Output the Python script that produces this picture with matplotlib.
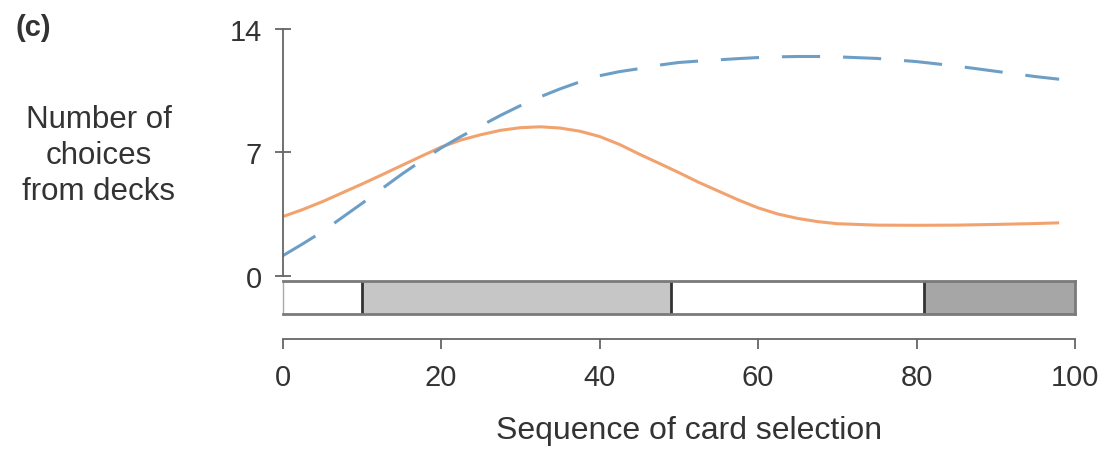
import matplotlib
matplotlib.use("Agg")
import matplotlib.pyplot as plt

plt.rcParams['font.family'] = ['Liberation Sans', 'DejaVu Sans']

# Data
seq = [0, 2.5, 5, 7.5, 10, 12.5, 15, 17.5, 20, 22.5, 25, 27.5, 30, 32.5, 35, 37.5,
       40, 42.5, 45, 47.5, 50, 52.5, 55, 57.5, 60, 62.5, 65, 67.5, 70, 75, 80, 85,
       90, 95, 98]
solid_deck = [3.35, 3.75, 4.2, 4.7, 5.2, 5.72, 6.25, 6.78, 7.3, 7.7, 8.0, 8.25, 8.4,
              8.45, 8.38, 8.2, 7.9, 7.45, 6.9, 6.38, 5.85, 5.3, 4.8, 4.3, 3.85, 3.5,
              3.25, 3.07, 2.95, 2.87, 2.86, 2.87, 2.91, 2.96, 3.0]
dashed_deck = [1.13, 1.8, 2.5, 3.3, 4.1, 4.93, 5.75, 6.52, 7.25, 7.9, 8.5, 9.1, 9.65,
               10.15, 10.6, 11.0, 11.35, 11.58, 11.75, 11.95, 12.1, 12.18, 12.25,
               12.32, 12.38, 12.42, 12.44, 12.44, 12.42, 12.33, 12.15, 11.9, 11.6,
               11.3, 11.15]

# phase strip
phase_start = [0, 10, 49, 81]
phase_end = [10, 49, 81, 100]
phase_color = ['white', '#c6c6c6', 'white', '#a6a6a6']

x_ticks = [0, 20, 40, 60, 80, 100]
y_ticks = [0, 7, 14]

txt = '#333333'
W, H = 1104, 452
fig = plt.figure(figsize=(W / 100, H / 100), dpi=100)

def frac(left, top, right, bottom):
    return [left / W, 1 - bottom / H, (right - left) / W, (bottom - top) / H]

# main curves
ax = fig.add_axes(frac(282.7, 30, 1075, 276.7))
ax.plot(seq, solid_deck, color='#f2a26e', lw=2.2, solid_capstyle='butt')
ax.plot(seq, dashed_deck, color='#6d9fc6', lw=2.2, dashes=(12.5, 7.5))
ax.set_xlim(0, 100)
ax.set_ylim(0, 14)
ax.set_yticks(y_ticks)
ax.set_xticks([])
for s in ['top', 'right', 'bottom']:
    ax.spines[s].set_visible(False)
ax.spines['left'].set_color('#666666')
ax.spines['left'].set_linewidth(1.3)
ax.tick_params(axis='y', direction='inout', length=12, width=1.3, color='#666666',
               labelsize=21, labelcolor=txt, pad=9)

# phase strip
sx = fig.add_axes(frac(282.7, 281.7, 1075, 315))
for a, b, c in zip(phase_start, phase_end, phase_color):
    sx.axvspan(a, b, color=c, lw=0)
for b in phase_start[1:]:
    sx.axvline(b, color='#333333', lw=2)
sx.set_xlim(0, 100)
sx.set_ylim(0, 1)
sx.set_xticks([])
sx.set_yticks([])
for s in sx.spines.values():
    s.set_color('#7a7a7a')
    s.set_linewidth(2)
sx.spines['left'].set_color('#aaaaaa')
sx.spines['left'].set_linewidth(1)

# x axis
xx = fig.add_axes(frac(282.7, 330, 1075, 340))
xx.set_xlim(0, 100)
xx.set_xticks(x_ticks)
xx.set_yticks([])
for s in ['top', 'right', 'left']:
    xx.spines[s].set_visible(False)
xx.patch.set_visible(False)
xx.spines['bottom'].set_color('#666666')
xx.spines['bottom'].set_linewidth(1.3)
xx.tick_params(axis='x', direction='out', length=7, width=1.3, color='#666666',
               labelsize=21, labelcolor=txt, pad=10)

fig.text(689 / W, 1 - 431 / H, 'Sequence of card selection', ha='center', va='center',
         fontsize=23, color=txt)
fig.text(99 / W, 1 - 156 / H, 'Number of\nchoices\nfrom decks', ha='center', va='center',
         multialignment='center', fontsize=22.5, color=txt, linespacing=1.25)
fig.text(33 / W, 1 - 28 / H, '(c)', ha='center', va='center', fontsize=21,
         fontweight='bold', color=txt)

fig.savefig('out.png', dpi=100)
